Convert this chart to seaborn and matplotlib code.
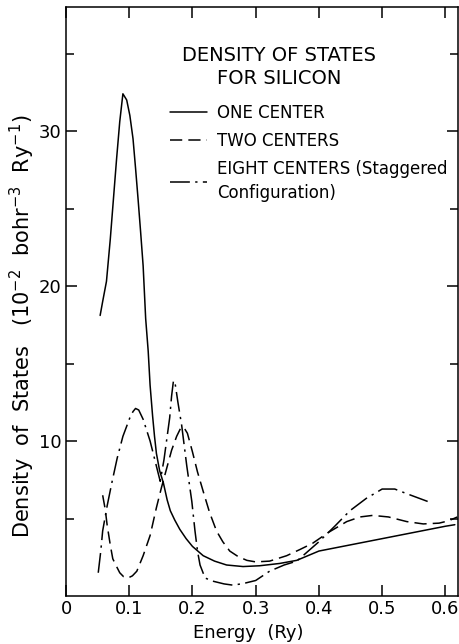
import numpy as np
import matplotlib
matplotlib.use("Agg")
import matplotlib.pyplot as plt
import seaborn as sns
from matplotlib.ticker import FixedLocator

# values: energy (Ry) vs density of states (1e-2 bohr^-3 Ry^-1)
one_x = [0.054, 0.058, 0.064, 0.070, 0.075, 0.080, 0.085, 0.090, 0.096, 0.101,
         0.106, 0.110, 0.114, 0.118, 0.122, 0.126, 0.130, 0.133, 0.137, 0.140,
         0.143, 0.148, 0.154, 0.160, 0.165, 0.172, 0.180, 0.190, 0.200, 0.217,
         0.235, 0.254, 0.280, 0.306, 0.338, 0.365, 0.400, 0.450, 0.500, 0.550,
         0.600, 0.615]
one_y = [18.1, 19.0, 20.3, 23.0, 25.6, 28.2, 30.6, 32.4, 32.0, 31.0,
         29.5, 27.6, 25.6, 23.5, 21.3, 17.9, 15.8, 13.6, 11.6, 10.3,
         9.2, 8.1, 7.3, 6.2, 5.5, 4.9, 4.3, 3.7, 3.2, 2.6,
         2.25, 2.0, 1.9, 1.95, 2.1, 2.3, 2.9, 3.3, 3.7, 4.1,
         4.5, 4.6]

two_x = [0.058, 0.062, 0.065, 0.070, 0.074, 0.080, 0.085, 0.091, 0.098, 0.105,
         0.112, 0.122, 0.133, 0.143, 0.151, 0.159, 0.167, 0.175, 0.181, 0.186,
         0.192, 0.200, 0.208, 0.217, 0.227, 0.238, 0.248, 0.259, 0.272, 0.286,
         0.300, 0.322, 0.349, 0.370, 0.390, 0.415, 0.444, 0.465, 0.485, 0.510,
         0.539, 0.565, 0.590, 0.605, 0.619]
two_y = [6.5, 5.6, 4.6, 3.3, 2.4, 1.9, 1.5, 1.25, 1.16, 1.3,
         1.6, 2.6, 3.9, 5.7, 7.0, 8.2, 9.4, 10.3, 10.8, 10.9,
         10.5, 9.3, 8.0, 6.75, 5.4, 4.2, 3.5, 2.9, 2.55, 2.3,
         2.2, 2.25, 2.6, 3.0, 3.4, 4.1, 4.8, 5.1, 5.2, 5.1,
         4.8, 4.65, 4.7, 4.85, 5.1]

eight_x = [0.051, 0.055, 0.058, 0.065, 0.073, 0.081, 0.090, 0.101, 0.106, 0.110,
           0.115, 0.122, 0.133, 0.141, 0.149, 0.155, 0.160, 0.164, 0.167, 0.170,
           0.173, 0.177, 0.183, 0.191, 0.199, 0.204, 0.208, 0.212, 0.220, 0.232,
           0.250, 0.264, 0.280, 0.300, 0.322, 0.345, 0.365, 0.400, 0.425, 0.449,
           0.475, 0.500, 0.520, 0.539, 0.572]
eight_y = [1.5, 2.9, 4.2, 5.8, 7.4, 8.9, 10.3, 11.5, 11.9, 12.1,
           12.0, 11.4, 10.0, 8.7, 7.4, 8.8, 10.3, 11.5, 12.9, 13.9,
           13.6, 12.5, 11.0, 8.4, 6.1, 4.2, 2.9, 2.0, 1.16, 0.96,
           0.78, 0.7, 0.8, 1.0, 1.6, 2.0, 2.25, 3.5, 4.5, 5.5,
           6.3, 6.9, 6.9, 6.6, 6.1]

labels = ["ONE CENTER", "TWO CENTERS", "EIGHT CENTERS (Staggered\nConfiguration)"]
x_ticks = [0, 0.1, 0.2, 0.3, 0.4, 0.5, 0.6]
x_ticklabels = ["0", "0.1", "0.2", "0.3", "0.4", "0.5", "0.6"]
y_ticks = [10, 20, 30]
y_minor = [5, 15, 25, 35]

sns.set_theme(style="ticks", rc={"text.color": "black", "axes.labelcolor": "black",
                                 "xtick.color": "black", "ytick.color": "black"})
plt.rcParams["font.family"] = ["DejaVu Sans"]

fig = plt.figure(figsize=(4.59, 6.44), dpi=100)
W, H = 459, 644
ax = fig.add_axes([66 / W, (H - 596) / H, (458 - 66) / W, (596 - 7) / H])

lw = 1.1
sns.lineplot(x=one_x, y=one_y, color="black", lw=lw, ax=ax, label=labels[0])
sns.lineplot(x=two_x, y=two_y, color="black", lw=lw, ax=ax, label=labels[1],
             linestyle=(0, (8, 4)))
sns.lineplot(x=eight_x, y=eight_y, color="black", lw=lw, ax=ax, label=labels[2],
             linestyle=(0, (13, 3.5, 1.5, 3.5)))

ax.set_xlim(0, 0.62)
ax.set_ylim(0, 38)
ax.xaxis.set_major_locator(FixedLocator(x_ticks))
ax.set_xticklabels(x_ticklabels)
ax.set_yticks(y_ticks)
ax.set_yticklabels([str(v) for v in y_ticks])
ax.yaxis.set_minor_locator(FixedLocator(y_minor))
ax.tick_params(which="both", direction="in", top=True, right=True,
               width=1.1, labelsize=13, pad=3)
ax.tick_params(which="major", length=8)
ax.tick_params(which="minor", length=6)
ax.tick_params(axis="x", pad=3)
for s in ax.spines.values():
    s.set_linewidth(1.1)
    s.set_color("black")
ax.set_xlabel("")
ax.set_ylabel("")

fig.text(279 / W, 1 - 67 / H, "DENSITY OF STATES\nFOR SILICON", ha="center",
         va="center", multialignment="center", fontsize=14, linespacing=1.3)

leg = ax.legend(frameon=False, loc="upper left", bbox_to_anchor=(170 / W, 1 - 104 / H),
                bbox_transform=fig.transFigure, borderaxespad=0, borderpad=0,
                fontsize=12, handlelength=2.2, handletextpad=0.6, labelspacing=0.6)
for t in leg.get_texts():
    t.set_linespacing(1.4)

fig.text(22 / W, 1 - 326 / H,
         "Density  of  States   (10$^{-2}$  bohr$^{-3}$  Ry$^{-1}$)",
         rotation=90, ha="center", va="center", fontsize=15)
fig.text(248 / W, 1 - 633 / H, "Energy  (Ry)", ha="center", va="center",
         fontsize=13)

fig.savefig("out.png", dpi=100, facecolor="white")
